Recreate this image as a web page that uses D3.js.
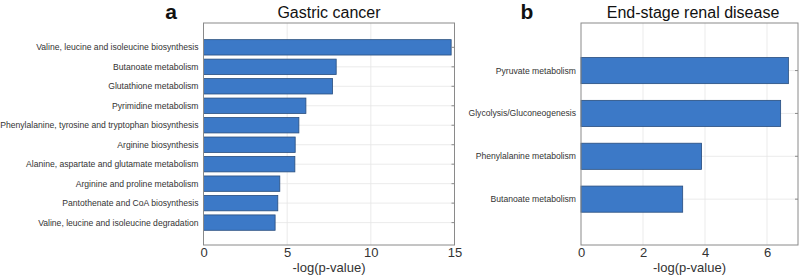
<!DOCTYPE html>
<html lang="en">
  <head>
    <meta charset="UTF-8" />
    <title>Pathway enrichment</title>
  </head>
  <body style="margin: 0; background: #fff">
    <style>
      text {
        font-family: 'Liberation Sans', Arial, sans-serif;
      }
      .bar {
        fill: #3c79c7;
        stroke: #274d7e;
        stroke-width: 0.8;
      }
      .grid line {
        stroke: #e6e6e6;
        stroke-width: 0.8;
      }
      .frame {
        fill: none;
        stroke: #8a8a8a;
        stroke-width: 1;
      }
    </style>
    <script src="https://d3js.org/d3.v7.min.js"></script>
    <script>
      // panel a
      const gastricPathways = [
        'Valine, leucine and isoleucine biosynthesis',
        'Butanoate metabolism',
        'Glutathione metabolism',
        'Pyrimidine metabolism',
        'Phenylalanine, tyrosine and tryptophan biosynthesis',
        'Arginine biosynthesis',
        'Alanine, aspartate and glutamate metabolism',
        'Arginine and proline metabolism',
        'Pantothenate and CoA biosynthesis',
        'Valine, leucine and isoleucine degradation',
      ];
      const gastricValues = [14.8, 7.93, 7.71, 6.12, 5.7, 5.48, 5.46, 4.56, 4.44, 4.28];
      const gastricTicks = [0, 5, 10, 15];

      // panel b
      const renalPathways = [
        'Pyruvate metabolism',
        'Glycolysis/Gluconeogenesis',
        'Phenylalanine metabolism',
        'Butanoate metabolism',
      ];
      const renalValues = [6.69, 6.44, 3.89, 3.28];
      const renalTicks = [0, 2, 4, 6];

      const svg = d3.select('body').append('svg').attr('width', 800).attr('height', 275);

      function drawPanel(opts) {
        const { left, right, top, bottom, names, values, ticks, xMax, barWidth, pad, letter, letterX, title } = opts;
        const g = svg.append('g');

        const x = d3.scaleLinear().domain([0, xMax]).range([left, right]);
        // bar positions 0..n-1 from top, with padding above/below
        const y = d3
          .scaleLinear()
          .domain([-pad[0], names.length - 1 + pad[1]])
          .range([top, bottom]);
        const step = y(1) - y(0);

        // vertical grid
        g.append('g')
          .attr('class', 'grid')
          .selectAll('line')
          .data(ticks.filter((t) => t > 0 && t < xMax))
          .join('line')
          .attr('x1', (d) => x(d))
          .attr('x2', (d) => x(d))
          .attr('y1', top)
          .attr('y2', bottom);

        // horizontal grid at categories
        g.append('g')
          .attr('class', 'grid')
          .selectAll('line')
          .data(names)
          .join('line')
          .attr('x1', left)
          .attr('x2', right)
          .attr('y1', (d, i) => y(i))
          .attr('y2', (d, i) => y(i));

        g.append('g')
          .selectAll('rect')
          .data(values)
          .join('rect')
          .attr('class', 'bar')
          .attr('x', x(0))
          .attr('y', (d, i) => y(i) - (step * barWidth) / 2)
          .attr('width', (d) => x(d) - x(0))
          .attr('height', step * barWidth);

        g.append('rect')
          .attr('class', 'frame')
          .attr('x', left)
          .attr('y', top)
          .attr('width', right - left)
          .attr('height', bottom - top);

        // small inward ticks on right edge
        g.append('g')
          .selectAll('line')
          .data(names)
          .join('line')
          .attr('x1', right - 3)
          .attr('x2', right)
          .attr('y1', (d, i) => y(i))
          .attr('y2', (d, i) => y(i))
          .attr('stroke', '#8a8a8a');

        // bottom axis
        const xAxis = d3.axisBottom(x).tickValues(ticks).tickSize(0).tickPadding(3).tickFormat(d3.format('d'));
        g.append('g')
          .attr('transform', `translate(0, ${bottom})`)
          .call(xAxis)
          .call((a) => a.select('.domain').remove())
          .call((a) => a.selectAll('text').attr('font-size', 13).attr('fill', '#333').attr('font-family', null));

        // category labels
        g.append('g')
          .selectAll('text')
          .data(names)
          .join('text')
          .attr('x', left - 5)
          .attr('y', (d, i) => y(i))
          .attr('dy', '0.35em')
          .attr('text-anchor', 'end')
          .attr('font-size', 8.6)
          .attr('fill', '#333')
          .text((d) => d);

        g.append('text')
          .attr('x', (left + right) / 2)
          .attr('y', 272)
          .attr('text-anchor', 'middle')
          .attr('font-size', 13)
          .attr('fill', '#333')
          .text('-log(p-value)');

        g.append('text')
          .attr('x', opts.titleX || (left + right) / 2)
          .attr('y', 18)
          .attr('text-anchor', 'middle')
          .attr('font-size', 16)
          .attr('fill', '#111')
          .text(title);

        g.append('text')
          .attr('x', letterX)
          .attr('y', 19)
          .attr('text-anchor', 'middle')
          .attr('font-size', 21)
          .attr('font-weight', 'bold')
          .attr('fill', '#111')
          .text(letter);
      }

      drawPanel({
        left: 203.5,
        right: 454.5,
        top: 23,
        bottom: 245,
        names: gastricPathways,
        values: gastricValues,
        ticks: gastricTicks,
        xMax: 15,
        barWidth: 0.79,
        pad: [1.25, 1.15],
        letter: 'a',
        letterX: 171,
        title: 'Gastric cancer',
      });

      drawPanel({
        left: 581,
        right: 798,
        top: 23,
        bottom: 245,
        names: renalPathways,
        values: renalValues,
        ticks: renalTicks,
        xMax: 7,
        barWidth: 0.61,
        pad: [1.11, 1.07],
        letter: 'b',
        letterX: 527,
        title: 'End-stage renal disease',
        titleX: 693,
      });
    </script>
  </body>
</html>
